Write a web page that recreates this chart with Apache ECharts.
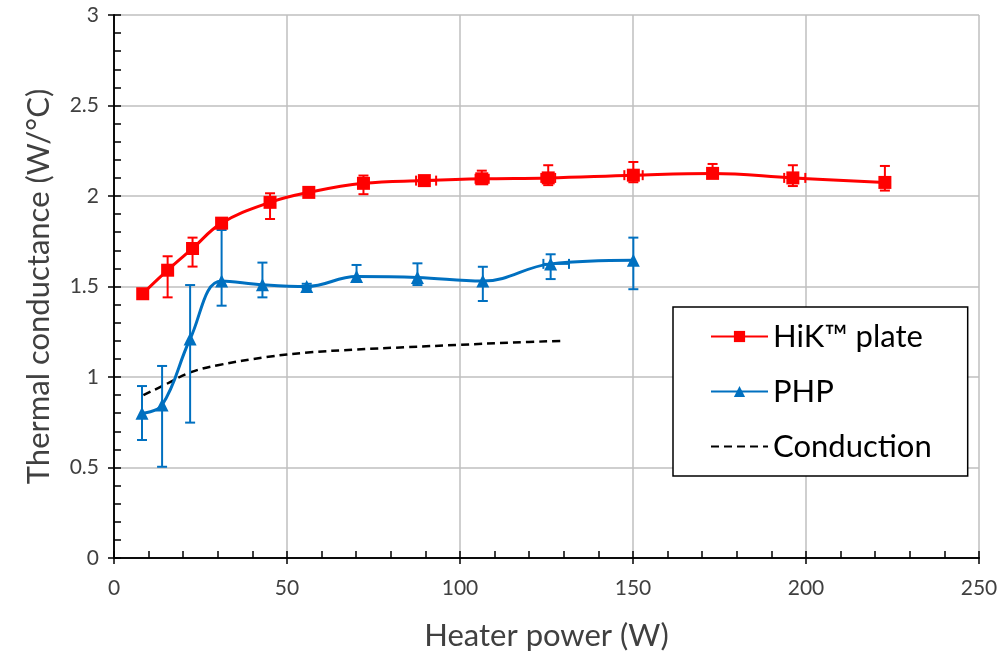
<!DOCTYPE html>
<html>
<head>
<meta charset="utf-8">
<script src="https://cdn.jsdelivr.net/npm/echarts@6/dist/echarts.min.js"></script>
<style>
  html, body { margin: 0; padding: 0; background: #fff; }
  #chart { width: 1008px; height: 656px; }
</style>
</head>
<body>
<div id="chart"></div>
<script>
// HiK plate measurements: heater power (W), conductance (W/°C) and error limits
const hikPower = [8.3, 15.5, 22.7, 31.1, 45.1, 56.3, 72.1, 89.7, 106.3, 125.5, 150.1, 173.0, 196.2, 222.8];
const hikCond  = [1.46, 1.59, 1.71, 1.85, 1.965, 2.02, 2.07, 2.085, 2.095, 2.10, 2.115, 2.125, 2.10, 2.075];
const hikCondLow  = [1.45, 1.44, 1.61, 1.83, 1.873, 2.00, 2.01, 2.07, 2.07, 2.06, 2.076, 2.10, 2.055, 2.03];
const hikCondHigh = [1.47, 1.667, 1.77, 1.87, 2.015, 2.045, 2.113, 2.10, 2.14, 2.17, 2.188, 2.177, 2.17, 2.166];
const hikPowerLow  = [8.3, 15.5, 22.7, 31.1, 45.1, 56.3, 72.1, 87.3, 104.5, 123.5, 147.5, 173.0, 193.7, 222.8];
const hikPowerHigh = [8.3, 15.5, 22.7, 31.1, 45.1, 56.3, 72.1, 93.1, 108.3, 127.5, 152.8, 173.0, 199.8, 222.8];

// PHP measurements
const phpPower = [8.1, 13.9, 22.0, 31.1, 42.9, 55.7, 70.1, 87.7, 106.6, 126.2, 150.1];
const phpCond  = [0.80, 0.845, 1.21, 1.53, 1.51, 1.50, 1.555, 1.55, 1.53, 1.625, 1.645];
const phpCondLow  = [0.652, 0.504, 0.748, 1.394, 1.44, 1.49, 1.527, 1.508, 1.42, 1.541, 1.485];
const phpCondHigh = [0.950, 1.061, 1.508, 1.812, 1.632, 1.515, 1.619, 1.628, 1.609, 1.678, 1.770];
const phpPowerLow  = [8.1, 13.9, 22.0, 31.1, 42.9, 55.7, 70.1, 87.7, 106.6, 124.1, 150.1];
const phpPowerHigh = [8.1, 13.9, 22.0, 31.1, 42.9, 55.7, 70.1, 87.7, 106.6, 131.5, 150.1];

// Pure conduction estimate
const condPower = [8.5, 15, 22, 30, 44, 56, 70, 85, 100, 115, 130];
const condValue = [0.90, 0.96, 1.025, 1.065, 1.11, 1.135, 1.152, 1.165, 1.178, 1.19, 1.20];

const xTicks = { min: 0, max: 250, interval: 50 };
const yTicks = { min: 0, max: 3, interval: 0.5 };

const FONT = 'Lato';
const RED = '#FF0000';
const BLUE = '#0070C0';

function pairs(xs, ys) { return xs.map((x, i) => [x, ys[i]]); }
function errRows(xs, ys, yl, yh, xl, xh) {
  return xs.map((x, i) => [x, ys[i], yl[i], yh[i], xl[i], xh[i]]);
}

// Error bars with end caps, in both directions
function errorBarRenderer(color) {
  return function (params, api) {
    const x = api.value(0), y = api.value(1);
    const yl = api.value(2), yh = api.value(3);
    const xl = api.value(4), xh = api.value(5);
    const c = 5;
    const children = [];
    const style = { stroke: color, lineWidth: 2 };
    const pLow = api.coord([x, yl]);
    const pHigh = api.coord([x, yh]);
    if (Math.abs(pLow[1] - pHigh[1]) > 1) {
      children.push({ type: 'line', shape: { x1: pLow[0], y1: pLow[1], x2: pHigh[0], y2: pHigh[1] }, style });
      children.push({ type: 'line', shape: { x1: pLow[0] - c, y1: pLow[1], x2: pLow[0] + c, y2: pLow[1] }, style });
      children.push({ type: 'line', shape: { x1: pHigh[0] - c, y1: pHigh[1], x2: pHigh[0] + c, y2: pHigh[1] }, style });
    }
    const qLow = api.coord([xl, y]);
    const qHigh = api.coord([xh, y]);
    if (Math.abs(qLow[0] - qHigh[0]) > 1) {
      children.push({ type: 'line', shape: { x1: qLow[0], y1: qLow[1], x2: qHigh[0], y2: qHigh[1] }, style });
      children.push({ type: 'line', shape: { x1: qLow[0], y1: qLow[1] - c, x2: qLow[0], y2: qLow[1] + c }, style });
      children.push({ type: 'line', shape: { x1: qHigh[0], y1: qHigh[1] - c, x2: qHigh[0], y2: qHigh[1] + c }, style });
    }
    return { type: 'group', children };
  };
}

const chart = echarts.init(document.getElementById('chart'));

const plotBox = { left: 114, right: 29, top: 15, bottom: 98 };

// Grid 0: labels, gridlines, inward major and minor ticks.
// Grid 1: same scales, short outward major ticks so the majors cross the axis.
chart.setOption({
  backgroundColor: '#fff',
  animation: false,
  textStyle: { fontFamily: FONT },
  grid: [Object.assign({}, plotBox), Object.assign({}, plotBox)],
  legend: {
    orient: 'vertical',
    left: 673,
    top: 307,
    padding: [14, 36, 14, 37],
    borderColor: '#000',
    borderWidth: 1.5,
    backgroundColor: '#fff',
    itemWidth: 57,
    itemHeight: 14,
    itemGap: 24,
    textStyle: { fontFamily: FONT, fontSize: 31, color: '#000' },
    data: [
      'HiK™ plate',
      'PHP',
      { name: 'Conduction', itemStyle: { opacity: 0 } }
    ]
  },
  xAxis: [{
    type: 'value',
    gridIndex: 0,
    min: xTicks.min, max: xTicks.max, interval: xTicks.interval,
    name: 'Heater power (W)',
    nameLocation: 'middle',
    nameGap: 62,
    nameTextStyle: { fontFamily: FONT, fontSize: 31, color: '#404040' },
    axisLine: { show: true, lineStyle: { color: '#000', width: 1.5 } },
    axisTick: { show: true, inside: true, length: 7, lineStyle: { color: '#000', width: 1.5 } },
    minorTick: { show: true, splitNumber: 5, length: 7, lineStyle: { color: '#000', width: 1.5 } },
    axisLabel: { fontFamily: FONT, fontSize: 21, color: '#404040', margin: 20 },
    splitLine: { show: true, lineStyle: { color: '#BFBFBF', width: 1.5 } }
  }, {
    type: 'value',
    gridIndex: 1,
    min: xTicks.min, max: xTicks.max, interval: xTicks.interval,
    axisLine: { show: true, lineStyle: { color: '#000', width: 1.5 } },
    axisTick: { show: true, length: 6, lineStyle: { color: '#000', width: 1.5 } },
    axisLabel: { show: true, color: 'rgba(0,0,0,0)' },
    splitLine: { show: false }
  }],
  yAxis: [{
    type: 'value',
    gridIndex: 0,
    min: yTicks.min, max: yTicks.max, interval: yTicks.interval,
    name: 'Thermal conductance (W/°C)',
    nameLocation: 'middle',
    nameGap: 60,
    nameTextStyle: { fontFamily: FONT, fontSize: 31, color: '#404040' },
    axisLine: { show: true, lineStyle: { color: '#000', width: 1.5 } },
    axisTick: { show: true, inside: true, length: 7, lineStyle: { color: '#000', width: 1.5 } },
    minorTick: { show: true, splitNumber: 5, length: 7, lineStyle: { color: '#000', width: 1.5 } },
    axisLabel: { fontFamily: FONT, fontSize: 21, color: '#404040', margin: 15 },
    splitLine: { show: true, lineStyle: { color: '#BFBFBF', width: 1.5 } }
  }, {
    type: 'value',
    gridIndex: 1,
    min: yTicks.min, max: yTicks.max, interval: yTicks.interval,
    axisLine: { show: true, lineStyle: { color: '#000', width: 1.5 } },
    axisTick: { show: true, length: 6, lineStyle: { color: '#000', width: 1.5 } },
    axisLabel: { show: true, color: 'rgba(0,0,0,0)' },
    splitLine: { show: false }
  }],
  series: [
    {
      name: 'Conduction',
      type: 'line',
      data: pairs(condPower, condValue),
      smooth: 0.4,
      symbol: 'none',
      lineStyle: { color: '#000', width: 2.5, type: [8, 5] },
      itemStyle: { color: '#000' },
      z: 2
    },
    {
      name: 'PHP errors',
      type: 'custom',
      renderItem: errorBarRenderer(BLUE),
      data: errRows(phpPower, phpCond, phpCondLow, phpCondHigh, phpPowerLow, phpPowerHigh),
      z: 3
    },
    {
      name: 'PHP',
      type: 'line',
      data: pairs(phpPower, phpCond),
      smooth: 0.4,
      symbol: 'triangle',
      symbolSize: 13,
      lineStyle: { color: BLUE, width: 3 },
      itemStyle: { color: BLUE },
      z: 4
    },
    {
      name: 'HiK errors',
      type: 'custom',
      renderItem: errorBarRenderer(RED),
      data: errRows(hikPower, hikCond, hikCondLow, hikCondHigh, hikPowerLow, hikPowerHigh),
      z: 5
    },
    {
      name: 'HiK™ plate',
      type: 'line',
      data: pairs(hikPower, hikCond),
      smooth: 0.4,
      symbol: 'rect',
      symbolSize: 13,
      lineStyle: { color: RED, width: 3 },
      itemStyle: { color: RED },
      z: 6
    }
  ]
});
</script>
</body>
</html>
